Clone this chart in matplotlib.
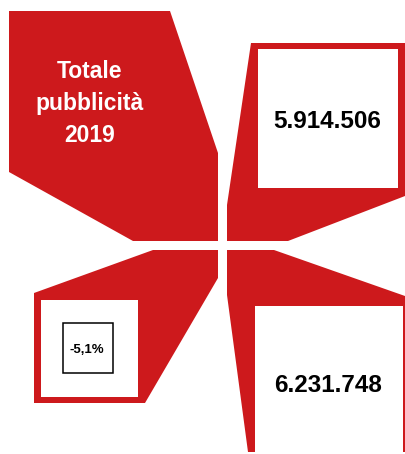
#!/usr/bin/env python3
"""
Totale pubblicità 2019 - infographic with four red panels
"""

import matplotlib.pyplot as plt
from matplotlib.patches import Polygon, Rectangle

# Data
title_lines = ['Totale', 'pubblicità', '2019']
value_2019 = 5914506
value_2018 = 6231748
change_pct = (value_2019 / value_2018 - 1) * 100


def it_number(v):
    return f'{v:,}'.replace(',', '.')


def it_pct(v):
    return f'{v:.1f}%'.replace('.', ',')


red = '#cd191c'
font = ['Liberation Sans', 'DejaVu Sans']

fig = plt.figure(figsize=(4.05, 4.54), dpi=100)
ax = fig.add_axes([0, 0, 1, 1])
ax.set_xlim(0, 405)
ax.set_ylim(454, 0)
ax.axis('off')

# Red panels (pixel layout of the infographic)
shapes = [
    [(9, 11), (170, 11), (218, 153), (218, 241), (133, 241), (9, 172)],
    [(251, 43), (405, 43), (405, 196), (288, 241), (227, 241), (227, 205)],
    [(153, 250), (218, 250), (218, 278), (145, 403), (34, 403), (34, 293)],
    [(227, 250), (274, 250), (405, 296), (405, 452), (248, 452), (227, 295)],
]
for pts in shapes:
    ax.add_patch(Polygon(pts, closed=True, facecolor=red, edgecolor='none'))

# White boxes
ax.add_patch(Rectangle((258, 49), 140, 139, facecolor='white', edgecolor='none'))
ax.add_patch(Rectangle((41, 300), 97, 97, facecolor='white', edgecolor='none'))
ax.add_patch(Rectangle((255, 306), 148, 146, facecolor='white', edgecolor='none'))
ax.add_patch(Rectangle((63, 323), 50, 50, facecolor='white', edgecolor='black', linewidth=1.1))

# Title
for i, line in enumerate(title_lines):
    ax.text(89.5, 78 + 32 * i, line, color='white', fontsize=16.5, fontweight='bold',
            family=font, ha='center', va='baseline')

# Values
ax.text(327.5, 128, it_number(value_2019), color='black', fontsize=17.5, fontweight='bold',
        family=font, ha='center', va='baseline')
ax.text(328.5, 392, it_number(value_2018), color='black', fontsize=17.5, fontweight='bold',
        family=font, ha='center', va='baseline')
ax.text(87, 353, it_pct(change_pct), color='black', fontsize=9.5, fontweight='bold',
        family=font, ha='center', va='baseline')

plt.savefig('out.png', dpi=100)
print('Saved out.png')
